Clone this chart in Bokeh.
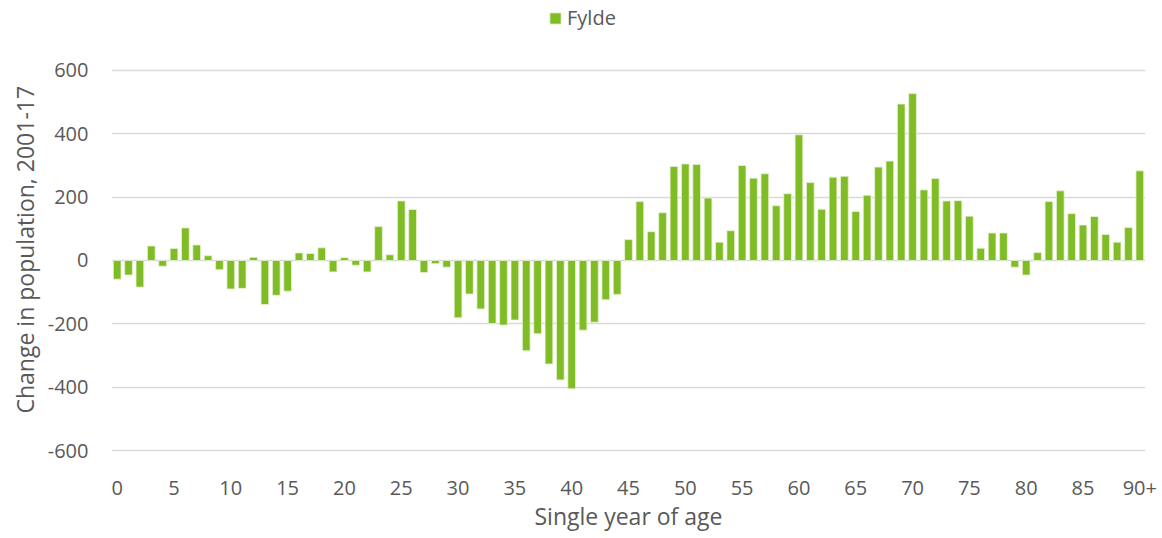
from bokeh.plotting import figure
from bokeh.models import Range1d, FixedTicker, Legend, LegendItem, Title
from bokeh.embed import file_html
from bokeh.resources import INLINE

series_name = "Fylde"
age_labels = [str(a) for a in range(90)] + ["90+"]
change = [-59, -46, -84, 46, -18, 38, 103, 49, 15, -29,
          -90, -88, 10, -139, -110, -97, 24, 22, 40, -36,
          9, -15, -36, 107, 18, 188, 161, -38, -10, -21,
          -181, -106, -153, -199, -204, -188, -285, -231, -327, -377,
          -405, -220, -195, -124, -107, 66, 186, 91, 151, 297,
          305, 303, 197, 58, 94, 300, 260, 274, 173, 211,
          397, 246, 162, 263, 266, 155, 206, 295, 314, 494,
          527, 223, 259, 188, 189, 140, 39, 87, 87, -21,
          -46, 25, 186, 220, 148, 112, 139, 82, 58, 104,
          283]
y_ticks = [-600, -400, -200, 0, 200, 400, 600]
x_tick_step = 5

ages = list(range(len(age_labels)))

FONT = "Open Sans"
TXT = "#595959"
GREEN = "#80BC25"

# frame extends to the top of the canvas so the legend (drawn inside it) shows
p = figure(width=1162, height=538, output_backend="svg", toolbar_location=None,
           x_range=Range1d(-0.5, len(ages) - 0.5), y_range=Range1d(-606.3, 821.0),
           min_border_left=111, min_border_right=17, min_border_top=0, min_border_bottom=86)
p.outline_line_color = None
p.background_fill_color = "white"
p.border_fill_color = "white"

r = p.vbar(x=ages, top=change, width=0.68, fill_color=GREEN, line_color="#E8F3D6", line_width=0.8)

p.xgrid.grid_line_color = None
p.ygrid.grid_line_color = "#D9D9D9"
p.ygrid.grid_line_width = 1.5
p.ygrid.ticker = FixedTicker(ticks=y_ticks)

xt = [a for a in ages if a % x_tick_step == 0]
p.xaxis.ticker = FixedTicker(ticks=xt)
p.xaxis.major_label_overrides = {a: age_labels[a] for a in xt}
p.yaxis.ticker = FixedTicker(ticks=y_ticks)
p.yaxis.major_label_overrides = {t: str(t) for t in y_ticks}

for ax in (p.xaxis[0], p.yaxis[0]):
    ax.axis_line_color = None
    ax.major_tick_line_color = None
    ax.minor_tick_line_color = None
    ax.major_tick_out = 0
    ax.major_tick_in = 0
    ax.major_label_text_font = FONT
    ax.major_label_text_color = TXT
    ax.major_label_text_font_size = "20px"
    ax.axis_label_text_font = FONT
    ax.axis_label_text_color = TXT
    ax.axis_label_text_font_size = "23px"
    ax.axis_label_text_font_style = "normal"

p.xaxis.axis_label = "Single year of age"
p.xaxis.major_label_standoff = 28
p.yaxis.major_label_standoff = 23
p.xaxis.axis_label_standoff = 2

ytitle = Title(text="Change in population, 2001-17", align="left", offset=39, standoff=8,
               text_font=FONT, text_font_size="23px", text_font_style="normal", text_color=TXT)
p.add_layout(ytitle, "left")

legend = Legend(items=[LegendItem(label=series_name, renderers=[r])],
                location=(437, 421), orientation="horizontal",
                glyph_width=14, glyph_height=14, label_standoff=5, padding=0, margin=0,
                border_line_color=None, background_fill_alpha=0,
                label_text_font=FONT, label_text_color=TXT, label_text_font_size="20px")
p.add_layout(legend, "center")

open("out.html", "w").write(file_html(p, INLINE))
